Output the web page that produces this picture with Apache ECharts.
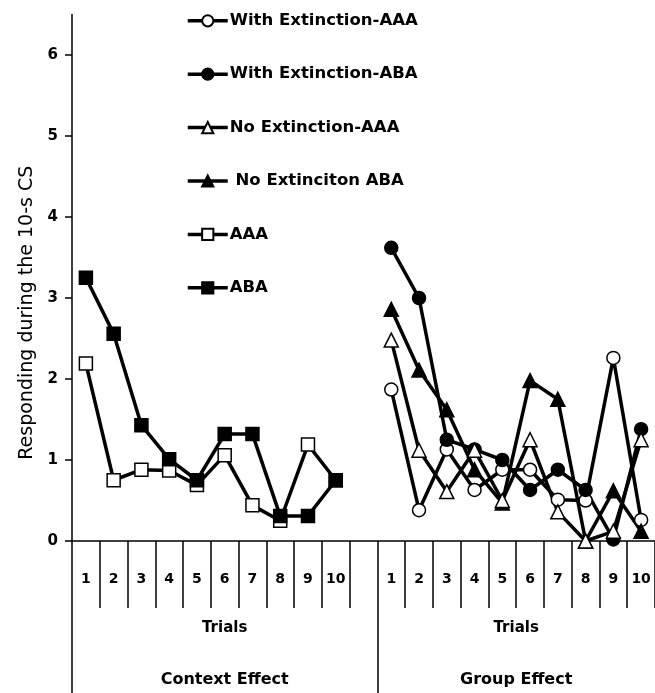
<!DOCTYPE html>
<html>
<head>
<meta charset="utf-8">
<script src="https://cdn.jsdelivr.net/npm/echarts@6/dist/echarts.min.js"></script>
<style>
html,body{margin:0;padding:0;background:#fff;}
#chart{width:655px;height:693px;}
</style>
</head>
<body>
<div id="chart"></div>
<script>
// ---- data ----
const trialLabels = ['1','2','3','4','5','6','7','8','9','10','','1','2','3','4','5','6','7','8','9','10'];
const yTicks = [0, 1, 2, 3, 4, 5, 6];
const sectionDividers = [0, 11];
const sectionCenters = [5.5, 16];
const sectionTitles = ['Trials', 'Trials'];
const sectionNames = ['Context Effect', 'Group Effect'];

// Context effect (left panel)
const contextAAA = [2.19, 0.75, 0.88, 0.87, 0.69, 1.06, 0.44, 0.25, 1.19, 0.75];
const contextABA = [3.25, 2.56, 1.43, 1.01, 0.75, 1.32, 1.32, 0.31, 0.31, 0.75];
// Group effect (right panel)
const withExtAAA = [1.87, 0.38, 1.13, 0.63, 0.88, 0.88, 0.51, 0.50, 2.26, 0.26];
const withExtABA = [3.62, 3.00, 1.25, 1.13, 1.00, 0.63, 0.88, 0.63, 0.02, 1.38];
const noExtAAA   = [2.48, 1.12, 0.61, 1.12, 0.50, 1.25, 0.36, 0.00, 0.12, 1.25];
const noExtABA   = [2.86, 2.11, 1.62, 0.88, 0.47, 1.98, 1.75, 0.00, 0.62, 0.12];

const legendNames = ['With Extinction-AAA', 'With Extinction-ABA', 'No Extinction-AAA', ' No Extinciton ABA', 'AAA', 'ABA'];

// ---- helpers ----
const gap = [null];
function leftPanel(v){ return v.concat(gap, v.map(() => null)); }
function rightPanel(v){ return v.map(() => null).concat(gap, v); }

function mk(name, data, symbol, filled, size){
  return {
    name: name,
    type: 'line',
    data: data,
    symbol: symbol,
    symbolSize: size,
    showSymbol: true,
    connectNulls: false,
    lineStyle: {color: '#000', width: 3.5},
    itemStyle: {color: filled ? '#000' : '#fff', borderColor: '#000', borderWidth: 1.5},
    emphasis: {disabled: true},
    animation: false
  };
}

const chart = echarts.init(document.getElementById('chart'), null, {renderer: 'canvas'});
const FF = 'DejaVu Sans';
const option = {
  animation: false,
  grid: {left: 72, right: 0, top: 14.5, bottom: 152, containLabel: false},
  legend: {
    orient: 'vertical',
    left: 186,
    top: 12.3,
    padding: 0,
    itemWidth: 40,
    itemHeight: 14,
    itemGap: 36.4,
    data: legendNames,
    lineStyle: {width: 3.5, color: '#000'},
    textStyle: {fontFamily: FF, fontWeight: 'bold', fontSize: 16.5, lineHeight: 14, color: '#000', padding: [0,0,0,-3]},
    selectedMode: false
  },
  xAxis: [
    {
      type: 'category',
      data: trialLabels,
      boundaryGap: true,
      axisLine: {lineStyle: {color: '#000', width: 1.5}},
      axisTick: {show: true, interval: 0, length: 67, lineStyle: {color: '#000', width: 1.5}},
      axisLabel: {interval: 0, margin: 31, fontFamily: FF, fontWeight: 'bold', fontSize: 14, color: '#000'}
    },
    {
      type: 'value', min: 0, max: 21, position: 'bottom',
      axisLine: {show: false},
      splitLine: {show: false},
      axisTick: {show: true, customValues: sectionDividers, length: 152, lineStyle: {color: '#000', width: 1.5}},
      axisLabel: {customValues: sectionCenters, margin: 80, fontFamily: FF, fontWeight: 'bold', fontSize: 15, color: '#000',
        formatter: function(v){ return sectionTitles[sectionCenters.indexOf(v)]; }}
    },
    {
      type: 'value', min: 0, max: 21, position: 'bottom',
      axisLine: {show: false},
      splitLine: {show: false},
      axisTick: {show: false},
      axisLabel: {customValues: sectionCenters, margin: 131, fontFamily: FF, fontWeight: 'bold', fontSize: 16, color: '#000',
        formatter: function(v){ return sectionNames[sectionCenters.indexOf(v)]; }}
    }
  ],
  yAxis: {
    type: 'value', min: 0, max: 6.5,
    name: 'Responding during the 10-s CS',
    nameLocation: 'middle',
    nameGap: 31,
    nameRotate: 90,
    nameTextStyle: {fontFamily: FF, fontSize: 19, color: '#000', padding: [0, 70, 0, 0]},
    axisLine: {show: true, lineStyle: {color: '#000', width: 1.5}},
    axisTick: {show: true, customValues: yTicks, length: 7, lineStyle: {color: '#000', width: 1.5}},
    axisLabel: {customValues: yTicks, margin: 14, fontFamily: FF, fontWeight: 'bold', fontSize: 15, color: '#000'},
    splitLine: {show: false}
  },
  series: [
    mk(legendNames[4], leftPanel(contextAAA), 'rect', false, 13),
    mk(legendNames[5], leftPanel(contextABA), 'rect', true, 13),
    mk(legendNames[0], rightPanel(withExtAAA), 'circle', false, 13),
    mk(legendNames[3], rightPanel(noExtABA), 'triangle', true, 14),
    mk(legendNames[1], rightPanel(withExtABA), 'circle', true, 13),
    mk(legendNames[2], rightPanel(noExtAAA), 'triangle', false, 14)
  ]
};
chart.setOption(option);
</script>
</body>
</html>
